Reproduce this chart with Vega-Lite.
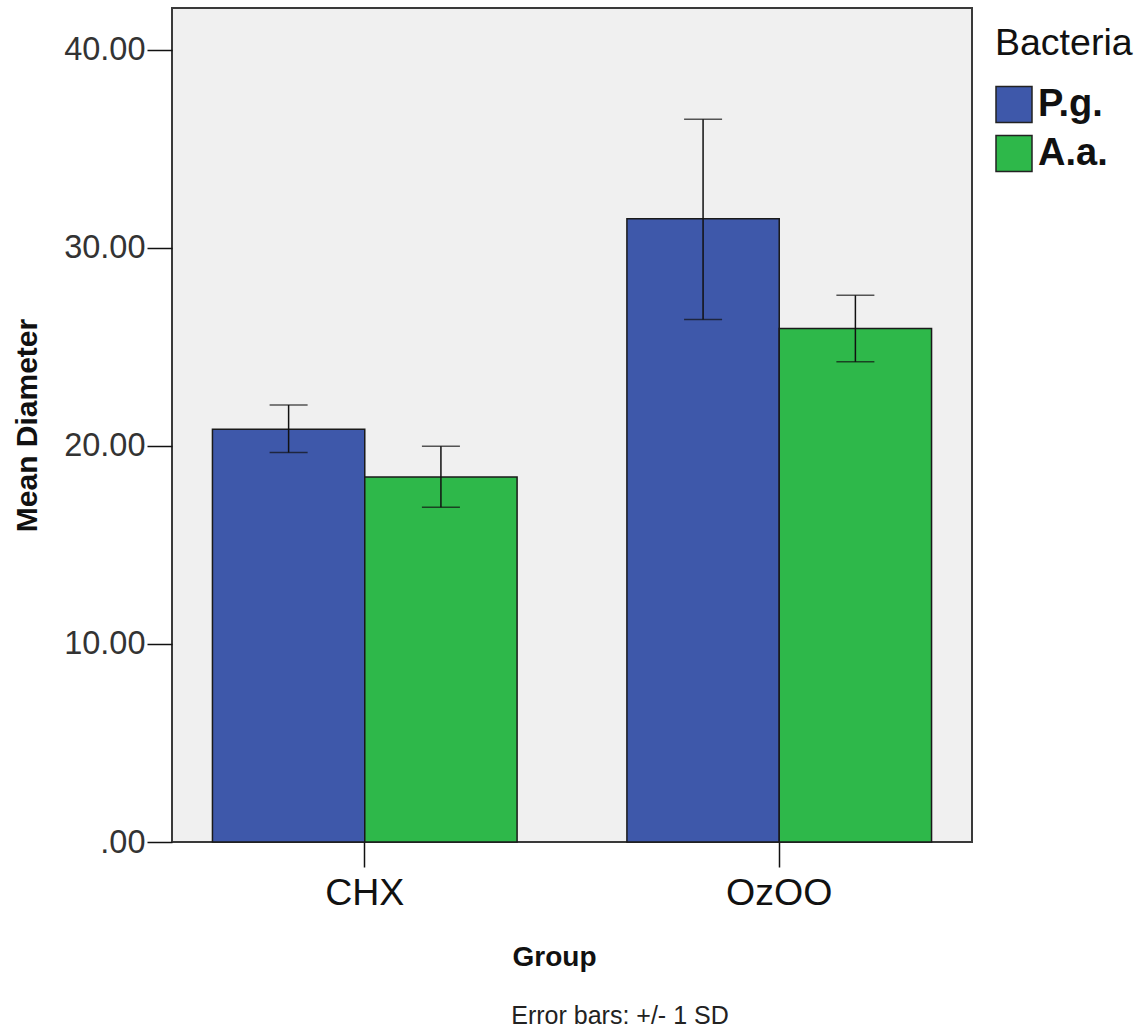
{
  "$schema": "https://vega.github.io/schema/vega-lite/v6.json",
  "autosize": "none",
  "width": 800,
  "height": 834,
  "padding": {"left": 172, "top": 8, "right": 176, "bottom": 193},
  "background": "white",
  "config": {
    "font": "Liberation Sans",
    "view": {"stroke": "#3a3a3a", "strokeWidth": 2, "fill": "#f0f0f0"}
  },
  "title": {
    "text": "Error bars:  +/- 1 SD",
    "orient": "bottom",
    "anchor": "middle",
    "frame": "group",
    "dx": 48,
    "offset": 33,
    "fontSize": 25,
    "fontWeight": "normal",
    "color": "#222222",
    "font": "Liberation Sans"
  },
  "data": {
    "values": [
      {"Group": "CHX", "Bacteria": "P.g.", "Mean": 20.85, "Low": 19.67, "High": 22.07},
      {"Group": "CHX", "Bacteria": "A.a.", "Mean": 18.44, "Low": 16.90, "High": 19.99},
      {"Group": "OzOO", "Bacteria": "P.g.", "Mean": 31.48, "Low": 26.39, "High": 36.50},
      {"Group": "OzOO", "Bacteria": "A.a.", "Mean": 25.93, "Low": 24.25, "High": 27.61}
    ]
  },
  "encoding": {
    "x": {
      "field": "Group",
      "type": "nominal",
      "scale": {"paddingInner": 0.265, "paddingOuter": 0.0976},
      "axis": {
        "title": "Group",
        "labelAngle": 0,
        "labelFontSize": 37.5,
        "labelColor": "#111111",
        "labelPadding": 7,
        "tickSize": 25,
        "tickColor": "#111111",
        "tickWidth": 1.5,
        "domain": false,
        "titleFontSize": 28,
        "titleFontWeight": "bold",
        "titleColor": "#111111",
        "titleX": 382,
        "titleY": 123,
        "titleBaseline": "alphabetic",
        "titleAnchor": "middle"
      }
    },
    "xOffset": {
      "field": "Bacteria",
      "type": "nominal",
      "scale": {"domain": ["P.g.", "A.a."], "paddingInner": 0, "paddingOuter": 0}
    }
  },
  "layer": [
    {
      "mark": {"type": "bar", "stroke": "#1a1a1a", "strokeWidth": 1.5},
      "encoding": {
        "y": {
          "field": "Mean",
          "type": "quantitative",
          "scale": {"domain": [0, 42.12], "nice": false},
          "axis": {
            "title": "Mean Diameter",
            "values": [0, 10, 20, 30, 40],
            "labelExpr": "datum.value == 0 ? '.00' : format(datum.value, '.2f')",
            "labelFontSize": 32.5,
            "labelColor": "#333333",
            "labelPadding": 2,
            "tickSize": 25,
            "tickColor": "#111111",
            "tickWidth": 1.5,
            "domain": false,
            "grid": false,
            "titleFontSize": 30,
            "titleFontWeight": "bold",
            "titleColor": "#111111",
            "titleX": -145,
            "titleY": 417,
            "titleBaseline": "middle",
            "titleAnchor": "middle"
          }
        },
        "color": {
          "field": "Bacteria",
          "type": "nominal",
          "scale": {"domain": ["P.g.", "A.a."], "range": ["#3e58aa", "#2eb84a"]},
          "legend": {
            "title": "Bacteria",
            "orient": "none",
            "legendX": 823,
            "legendY": 17,
            "padding": 0,
            "titleFontSize": 37.5,
            "titleFontWeight": "normal",
            "titleColor": "#111111",
            "titlePadding": 23,
            "symbolType": "square",
            "symbolSize": 1296,
            "symbolStrokeColor": "#222222",
            "symbolStrokeWidth": 1.5,
            "labelFontSize": 38,
            "labelFontWeight": "bold",
            "labelColor": "#111111",
            "labelOffset": 5,
            "rowPadding": 7
          }
        }
      }
    },
    {
      "mark": {"type": "rule", "color": "#111111", "strokeWidth": 1.5},
      "encoding": {
        "y": {"field": "Low", "type": "quantitative"},
        "y2": {"field": "High"}
      }
    },
    {
      "mark": {"type": "tick", "color": "#111111", "thickness": 1.5, "size": 38, "orient": "horizontal"},
      "encoding": {
        "y": {"field": "Low", "type": "quantitative"}
      }
    },
    {
      "mark": {"type": "tick", "color": "#111111", "thickness": 1.5, "size": 38, "orient": "horizontal"},
      "encoding": {
        "y": {"field": "High", "type": "quantitative"}
      }
    }
  ]
}
